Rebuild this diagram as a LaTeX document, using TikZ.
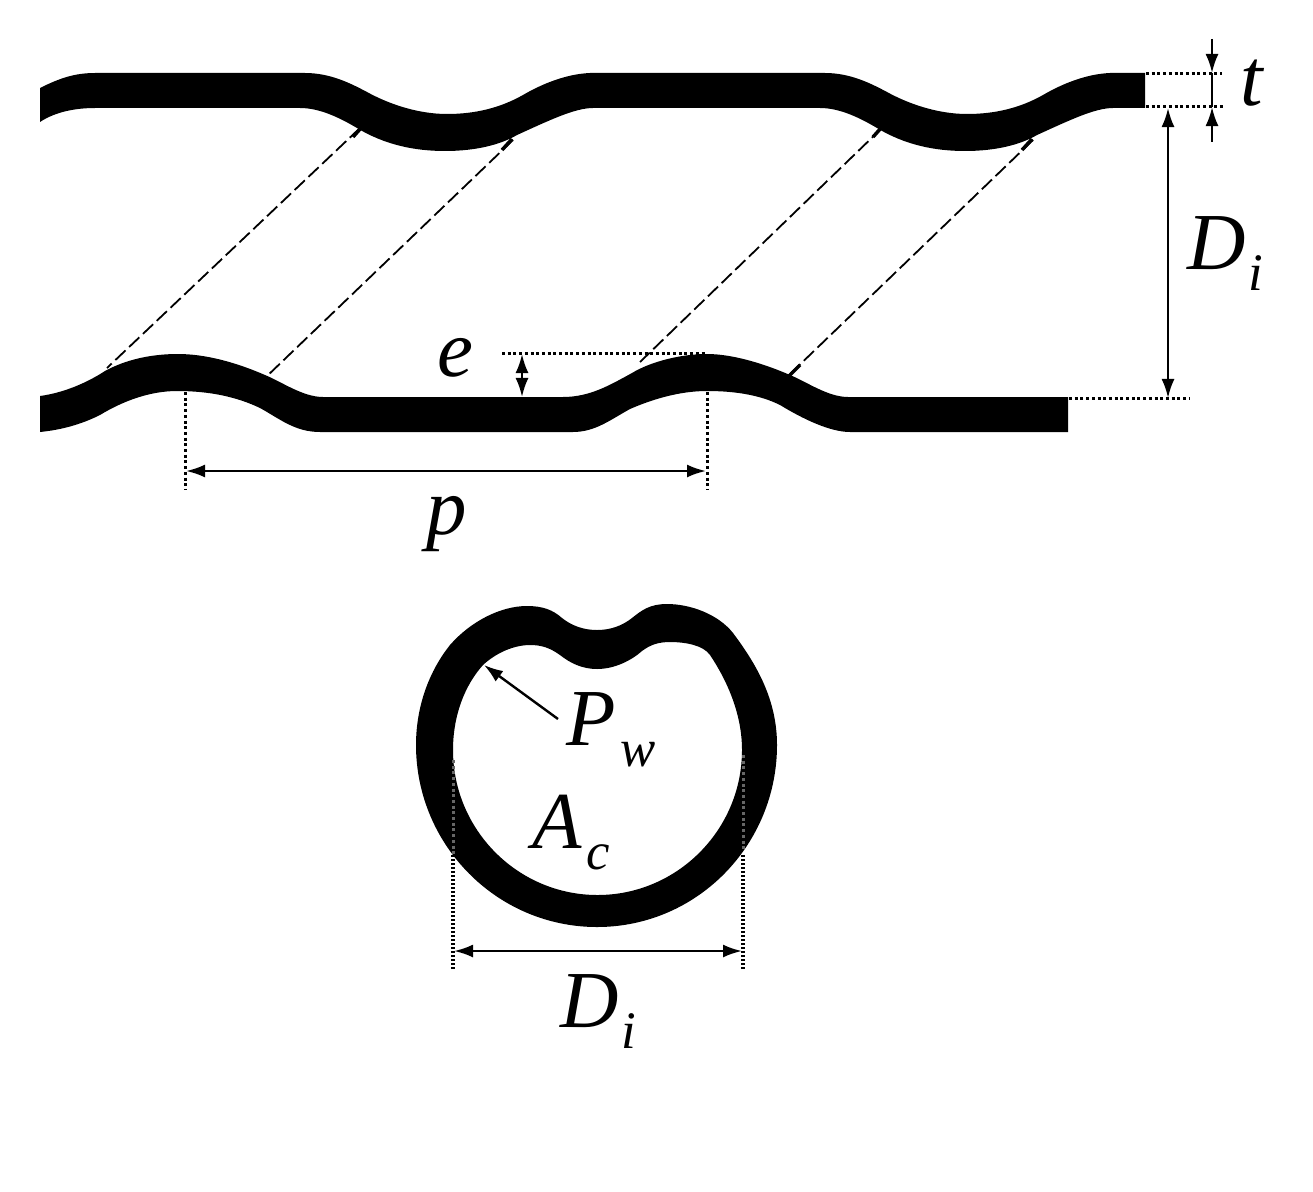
\documentclass[tikz,border=0pt]{standalone}
\usepackage{fontspec}
\setmainfont{Liberation Serif}
\newfontfamily\symfont{Liberation Serif Italic}
\usetikzlibrary{arrows.meta}
\tikzset{
    dimline/.style={line width=0.024cm, {Latex[length=0.19cm,width=0.13cm]}-{Latex[length=0.19cm,width=0.13cm]}},
    dimhead/.style={line width=0.024cm, -{Latex[length=0.19cm,width=0.13cm]}},
    dotline/.style={line width=0.03cm, dash pattern=on 0.03cm off 0.027cm},
    helixline/.style={line width=0.018cm, dash pattern=on 0.14cm off 0.05cm},
    helixstub/.style={line width=0.035cm},
    tubewall/.style={fill=black},
    symbol/.style={inner sep=0pt, font=\fontsize{23}{24}\selectfont\symfont}
}
\newcommand{\subsym}[3]{#1\kern#3em\raisebox{-0.26em}{\fontsize{15}{16}\selectfont #2}}

\begin{document}
\begin{tikzpicture}[x=0.01cm, y=-0.01cm]
    \useasboundingbox (0,0) rectangle (1313,1191);

    % Upper tube wall
    \fill[tubewall] (40,88) .. controls (60,78) and (75,73) .. (95,73) -- (305,73)
        .. controls (330,73) and (350,83) .. (367,92) .. controls (385,102) and (415,114) .. (447,114)
        .. controls (475,114) and (500,108) .. (523,95) .. controls (540,85) and (565,74) .. (590,73) -- (825,73)
        .. controls (850,73) and (870,83) .. (887,92) .. controls (905,102) and (935,114) .. (967,114)
        .. controls (995,114) and (1020,108) .. (1043,95) .. controls (1060,85) and (1085,74) .. (1110,73)
        -- (1145,73) -- (1145,108) -- (1113,108)
        .. controls (1095,108) and (1070,120) .. (1037,135) .. controls (1020,145) and (995,151) .. (965,151)
        .. controls (935,151) and (905,145) .. (877,128) .. controls (860,118) and (840,108) .. (820,108) -- (593,108)
        .. controls (575,108) and (550,120) .. (517,135) .. controls (500,145) and (475,151) .. (445,151)
        .. controls (415,151) and (385,145) .. (357,128) .. controls (340,118) and (320,108) .. (300,108) -- (95,108)
        .. controls (75,108) and (55,112) .. (40,122) -- cycle;

    % Lower tube wall
    \fill[tubewall] (40,396) .. controls (62,393) and (85,384) .. (105,371) .. controls (125,360) and (150,354) .. (178,354)
        .. controls (205,354) and (235,362) .. (265,375) .. controls (282,382) and (303,397) .. (323,397) -- (563,397)
        .. controls (590,397) and (610,385) .. (632,373) .. controls (650,362) and (680,354) .. (707,354)
        .. controls (730,354) and (760,362) .. (790,375) .. controls (807,382) and (828,397) .. (848,397)
        -- (1068,397) -- (1068,432) -- (850,432)
        .. controls (830,432) and (803,419) .. (780,405) .. controls (760,395) and (735,391) .. (707,391)
        .. controls (680,391) and (653,399) .. (630,409) .. controls (610,420) and (595,432) .. (573,432) -- (320,432)
        .. controls (295,432) and (280,419) .. (260,408) .. controls (237,397) and (210,391) .. (177,391)
        .. controls (150,391) and (123,401) .. (100,415) .. controls (80,425) and (60,430) .. (40,432) -- cycle;

    % Helical corrugation lines
    \foreach \xa/\ya/\xb/\yb in {360/128/107/368, 513/140/265/378, 882/128/640/362, 1033/140/788/376}
        \draw[helixline] (\xa,\ya) -- (\xb,\yb);
    \foreach \xa/\ya/\xb/\yb in {361/128/353/137, 512/139/502/150, 881/128/873/137, 1032/139/1022/150, 788/377/800/365}
        \draw[helixstub] (\xa,\ya) -- (\xb,\yb);

    % Wall thickness t
    \coordinate (tTop) at (1212,73);
    \coordinate (tBot) at (1212,107);
    \coordinate (tUp) at (1212,39);
    \coordinate (tDown) at (1212,142);
    \draw[dotline] (1146,74) -- (1222,74);
    \draw[dotline] (1146,107) -- (1224,107);
    \draw[dimhead] (tUp) -- (tTop);
    \draw[dimhead] (tDown) -- (tBot);
    \draw[line width=0.024cm] (tTop) -- (tBot);
    \node[symbol, anchor=base] (tLabel) at (1252,106) {t};

    % Inner diameter (side view)
    \coordinate (diTop) at (1168,108);
    \coordinate (diBot) at (1168,398);
    \draw[dimline] (diTop) -- (diBot);
    \draw[dotline] (1069,398) -- (1190,398);
    \node[symbol, anchor=base west] (diSide) at (1187,269) {\subsym{D}{i}{0.03}};

    % Rib height e
    \coordinate (eTop) at (522,354);
    \coordinate (eBot) at (522,397);
    \draw[dotline] (502,353) -- (707,353);
    \draw[dimline] (eTop) -- (eBot);
    \node[symbol, anchor=base] (eLabel) at (455,376) {e};

    % Pitch p
    \coordinate (pLeft) at (186,471);
    \coordinate (pRight) at (706,471);
    \draw[dotline] (185,392) -- (185,489);
    \draw[dotline] (707,392) -- (707,489);
    \draw[dimline] (pLeft) -- (pRight);
    \node[symbol, anchor=base] (pLabel) at (447,534) {p};

    % Cross section
    \fill[tubewall, even odd rule]
        (416,745) .. controls (416,845) and (497,927) .. (597,927) .. controls (697,927) and (777,845) .. (777,745)
        .. controls (777,700) and (757,665) .. (733,633) .. controls (718,614) and (690,604) .. (667,604)
        .. controls (650,604) and (642,610) .. (632,618) .. controls (622,626) and (610,630) .. (597,630)
        .. controls (584,630) and (572,626) .. (562,618) .. controls (553,610) and (543,606) .. (527,606)
        .. controls (500,606) and (470,622) .. (450,645) .. controls (430,670) and (416,705) .. (416,745) -- cycle
        (453,750) .. controls (453,830) and (518,895) .. (597.5,895) .. controls (677,895) and (742,830) .. (742,750)
        .. controls (742,715) and (728,682) .. (710,655) .. controls (703,645) and (685,642) .. (670,642)
        .. controls (658,642) and (650,645) .. (642,651) .. controls (632,660) and (615,669) .. (597,669)
        .. controls (582,669) and (570,663) .. (560,655) .. controls (550,648) and (542,645) .. (530,645)
        .. controls (515,645) and (497,652) .. (483,665) .. controls (465,685) and (453,715) .. (453,750) -- cycle;

    % Traces of the dotted lines inside the wall
    \draw[dotline, black!60] (453,760) -- (453,855);
    \draw[dotline, black!60] (743,755) -- (743,850);

    % Inner diameter (cross section)
    \coordinate (dcLeft) at (454,951);
    \coordinate (dcRight) at (742,951);
    \foreach \x in {452,454,742,744}
        \draw[line width=0.012cm, dash pattern=on 0.02cm off 0.02cm] (\x,855) -- (\x,970);
    \draw[dimline] (dcLeft) -- (dcRight);
    \node[symbol, anchor=base west] (diCross) at (560,1027) {\subsym{D}{i}{0.03}};

    % Wetted perimeter and flow area
    \node[symbol, anchor=base west] (pwLabel) at (566,745) {\subsym{P}{w}{0.06}};
    \node[symbol, anchor=base west] (acLabel) at (532,848) {\subsym{A}{c}{0.06}};
    \coordinate (pwTail) at (558,719);
    \coordinate (pwTip) at (484,665);
    \draw[dimhead] (pwTail) -- (pwTip);
\end{tikzpicture}
\end{document}
